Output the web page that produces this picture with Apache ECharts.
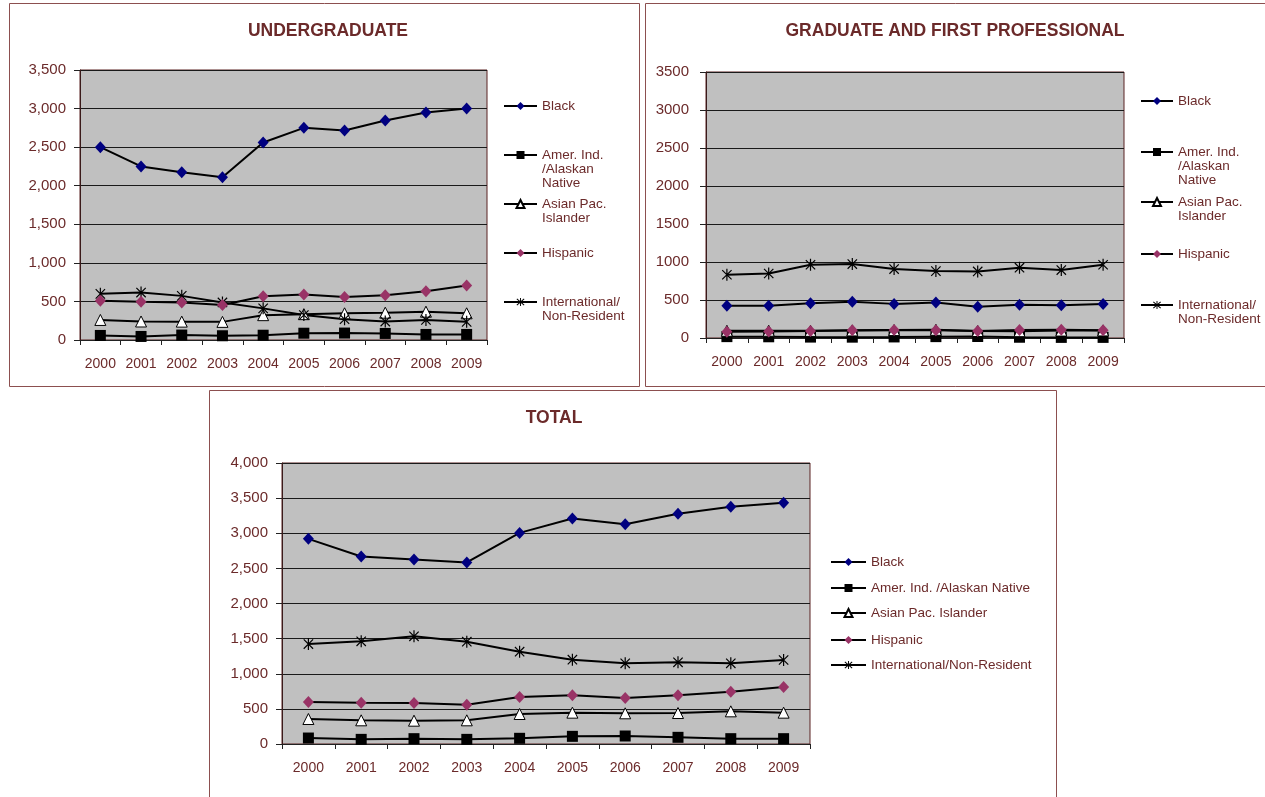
<!DOCTYPE html>
<html>
<head>
<meta charset="utf-8">
<script src="https://cdn.jsdelivr.net/npm/echarts@6/dist/echarts.min.js"></script>
<style>
html,body{margin:0;padding:0;background:#fff;}
#c{width:1265px;height:797px;}
</style>
</head>
<body>
<div id="c"></div>
<script>
// ---- data ----
const years = ['2000','2001','2002','2003','2004','2005','2006','2007','2008','2009'];
const seriesNames = ['Black','Amer. Ind. /Alaskan Native','Asian Pac. Islander','Hispanic','International/Non-Resident'];

// Undergraduate
const ugBlack    = [2500, 2250, 2175, 2110, 2560, 2750, 2715, 2845, 2950, 3000];
const ugAmerInd  = [59, 46, 64, 55, 62, 88, 90, 85, 72, 72];
const ugAsian    = [260, 240, 238, 235, 322, 335, 346, 354, 367, 346];
const ugHispanic = [508, 495, 487, 455, 568, 590, 557, 581, 632, 705];
const ugIntl     = [598, 615, 572, 487, 410, 324, 269, 239, 260, 235];

// Graduate and first professional
const grBlack    = [423, 423, 458, 476, 449, 467, 410, 436, 432, 449];
const grAmerInd  = [18, 16, 12, 11, 14, 18, 20, 10, 8, 8];
const grAsian    = [95, 96, 94, 100, 104, 108, 92, 90, 98, 100];
const grHispanic = [83, 85, 92, 101, 106, 101, 92, 106, 110, 101];
const grIntl     = [832, 849, 964, 973, 907, 880, 876, 925, 894, 964];

// Total
const ttBlack    = [2920, 2670, 2628, 2585, 3005, 3210, 3128, 3278, 3378, 3435];
const ttAmerInd  = [85, 66, 76, 66, 81, 109, 114, 95, 76, 76];
const ttAsian    = [356, 337, 332, 337, 427, 446, 437, 441, 465, 446];
const ttHispanic = [598, 588, 584, 560, 669, 693, 655, 693, 745, 811];
const ttIntl     = [1423, 1461, 1533, 1457, 1314, 1200, 1148, 1163, 1148, 1196];

const yTicksUG = [0, 3500, 500];
const yTicksGR = [0, 3500, 500];
const yTicksTT = [0, 4000, 500];

// ---- styles ----
const TXT = '#6B2A2A';
const FONT = '"Liberation Sans", Arial, sans-serif';
const STAR = 'path://M-1,-10 L1,-10 L1,10 L-1,10 Z M-8.5,-7.1 L-7.1,-8.5 L8.5,7.1 L7.1,8.5 Z M7.1,-8.5 L8.5,-7.1 L-7.1,8.5 L-8.5,7.1 Z';
const markers = [
  {symbol:'diamond', size:[11,12], item:{color:'#000080'}},
  {symbol:'rect', size:11, item:{color:'#000000'}},
  {symbol:'triangle', size:11, item:{color:'#ffffff', borderColor:'#000', borderWidth:1}},
  {symbol:'diamond', size:[11,12], item:{color:'#993366'}},
  {symbol:STAR, size:12, item:{color:'#000000'}}
];

function fmtComma(v){ return String(v).replace(/\B(?=(\d{3})+(?!\d))/g, ','); }

const grids = [
  {left:80, top:70, width:407, height:270},
  {left:706, top:72, width:418, height:266},
  {left:282, top:463, width:528, height:281}
];
const yCfg = [
  {t:yTicksUG, comma:true, margin:14},
  {t:yTicksGR, comma:false, margin:17},
  {t:yTicksTT, comma:true, margin:14}
];
const dataSets = [
  [ugBlack, ugAmerInd, ugAsian, ugHispanic, ugIntl],
  [grBlack, grAmerInd, grAsian, grHispanic, grIntl],
  [ttBlack, ttAmerInd, ttAsian, ttHispanic, ttIntl]
];

const option = {
  animation:false,
  backgroundColor:'#ffffff',
  textStyle:{fontFamily:FONT},
  title:[
    {text:'UNDERGRADUATE', left:328, top:22, textAlign:'center', padding:0},
    {text:'GRADUATE AND FIRST PROFESSIONAL', left:955, top:22, textAlign:'center', padding:0},
    {text:'TOTAL', left:554, top:409, textAlign:'center', padding:0}
  ].map(t=>Object.assign(t,{textStyle:{color:TXT, fontSize:17.5, fontWeight:'bold', fontFamily:FONT}})),
  graphic:[
    {type:'rect', shape:{x:9.5, y:3.5, width:630, height:383}, style:{fill:'none', stroke:'#8c4f4f', lineWidth:1}, z:-1},
    {type:'rect', shape:{x:645.5, y:3.5, width:625, height:383}, style:{fill:'none', stroke:'#8c4f4f', lineWidth:1}, z:-1},
    {type:'rect', shape:{x:209.5, y:390.5, width:847, height:420}, style:{fill:'none', stroke:'#8c4f4f', lineWidth:1}, z:-1}
  ],
  grid: grids.map(g=>Object.assign({show:true, backgroundColor:'#C0C0C0', borderColor:'#5a2222', borderWidth:1, containLabel:false}, g)),
  xAxis: grids.map((g,i)=>({
    type:'category', gridIndex:i, data:years, boundaryGap:true,
    axisLine:{show:true, lineStyle:{color:'#222', width:1}},
    axisTick:{show:true, length:5, interval:0, lineStyle:{color:'#222'}},
    axisLabel:{color:TXT, fontSize:14, margin:17, interval:0, fontFamily:FONT},
    splitLine:{show:false}
  })),
  yAxis: yCfg.map((c,i)=>({
    type:'value', gridIndex:i, min:c.t[0], max:c.t[1], interval:c.t[2],
    axisLine:{show:true, lineStyle:{color:'#3a1a1a', width:1}},
    axisTick:{show:true, length:6, lineStyle:{color:'#222'}},
    axisLabel:{color:TXT, fontSize:15, margin:c.margin, fontFamily:FONT,
      formatter: c.comma ? (v=>fmtComma(v)) : (v=>String(v))},
    splitLine:{show:true, lineStyle:{color:'#1a1a1a', width:1}}
  })),
  legend: [],
  series: []
};

dataSets.forEach((ds,gi)=>{
  ds.forEach((arr,si)=>{
    const m = markers[si];
    option.series.push({
      type:'line', name:seriesNames[si], xAxisIndex:gi, yAxisIndex:gi, data:arr,
      symbol:m.symbol, symbolSize:m.size, symbolKeepAspect:true, showSymbol:true,
      lineStyle:{color:'#000', width:2}, itemStyle:Object.assign({}, m.item),
      z: 2 + (si===3?2:0)
    });
  });
});

// Legend item whose icon lines up with the first line of a (possibly multi-line) label:
// blank lines are put before the label so that the block's middle line is the first text line.
function legendItem(name, label, x, y, iw){
  const lh = 14;
  const lines = label.split('\n').length;
  const shown = '\n'.repeat(lines-1) + label;
  const blockH = (2*lines-1)*lh;
  return {
    left:x, top:y - blockH/2, padding:0, itemWidth:iw, itemHeight:10, itemGap:0,
    orient:'vertical', selectedMode:false,
    data:[name],
    formatter: ()=>shown,
    textStyle:{color:TXT, fontSize:13.5, lineHeight:lh, fontFamily:FONT}
  };
}
const ugLegLabels = ['Black','Amer. Ind.\n/Alaskan\nNative','Asian Pac.\nIslander','Hispanic','International/\nNon-Resident'];
const ugLegY = [106,155,204,253,302];
const grLegY = [101,152,202,254,305];
const ttLegLabels = ['Black','Amer. Ind. /Alaskan Native','Asian Pac. Islander','Hispanic','International/Non-Resident'];
const ttLegY = [562,588,613,640,665];

seriesNames.forEach((n,i)=>{
  option.legend.push(legendItem(n, ugLegLabels[i], 503, ugLegY[i], 33));
  option.legend.push(legendItem(n, ugLegLabels[i], 1140, grLegY[i], 32));
  option.legend.push(legendItem(n, ttLegLabels[i], 830, ttLegY[i], 35));
});

const chart = echarts.init(document.getElementById('c'), null, {renderer:'canvas'});
chart.setOption(option);
</script>
</body>
</html>
